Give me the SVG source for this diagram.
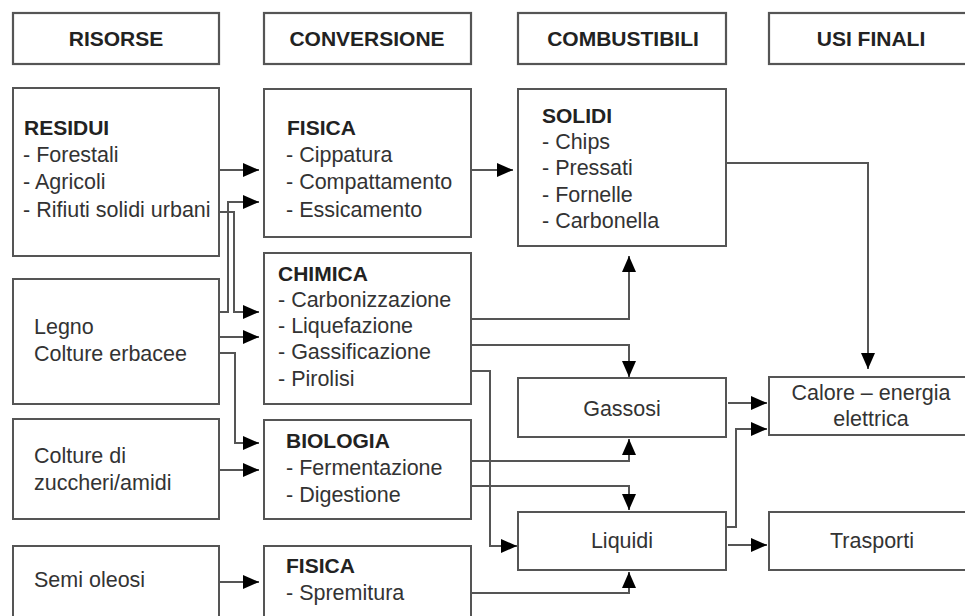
<svg xmlns="http://www.w3.org/2000/svg" width="965" height="616" viewBox="0 0 965 616">
<defs>
<marker id="arr" markerUnits="userSpaceOnUse" markerWidth="17" markerHeight="15" refX="16" refY="7" orient="auto">
<path d="M0,0 L16,7 L0,14 z" fill="#000"/>
</marker>
<style>
.box{fill:#fff;stroke:#555;stroke-width:2}
.hbox{fill:#fff;stroke:#555;stroke-width:2.2}
.t{font-family:"Liberation Sans",Arial,sans-serif;font-size:21.5px;fill:#333}
.b{font-family:"Liberation Sans",Arial,sans-serif;font-size:21px;font-weight:bold;fill:#222}
.c{text-anchor:middle}
.ln{fill:none;stroke:#555;stroke-width:2}
.ar{marker-end:url(#arr)}
</style>
</defs>
<rect width="965" height="616" fill="#fff"/>

<g id="h-risorse"><rect class="hbox" x="13" y="13" width="206" height="51"/><text class="b c" x="116" y="46">RISORSE</text></g>
<g id="h-conversione"><rect class="hbox" x="264" y="13" width="207" height="51"/><text class="b c" x="367" y="46">CONVERSIONE</text></g>
<g id="h-combustibili"><rect class="hbox" x="518" y="13" width="208" height="51"/><text class="b c" x="623" y="46">COMBUSTIBILI</text></g>
<g id="h-usi"><rect class="hbox" x="769" y="13" width="206" height="51"/><text class="b c" x="871" y="46">USI FINALI</text></g>

<g id="connectors">
<path class="ln ar" d="M219,170 H259"/>
<path class="ln ar" d="M219,312 H228 V202 H259"/>
<path class="ln ar" d="M219,212 H234 V312 H259"/>
<path class="ln ar" d="M219,337 H259"/>
<path class="ln ar" d="M219,353 H235 V443 H259"/>
<path class="ln ar" d="M219,470 H259"/>
<path class="ln ar" d="M219,582 H259"/>
<path class="ln ar" d="M471,170 H513"/>
<path class="ln ar" d="M726,163 H868 V369"/>
<path class="ln ar" d="M471,319 H629 V256"/>
<path class="ln ar" d="M471,345 H629 V377"/>
<path class="ln ar" d="M471,371 H490 V546 H517"/>
<path class="ln ar" d="M471,461 H629 V439"/>
<path class="ln ar" d="M471,486 H629 V510"/>
<path class="ln ar" d="M471,593 H629 V572"/>
<path class="ln ar" d="M728,403 H767"/>
<path class="ln ar" d="M726,527 H736 V429 H767"/>
<path class="ln ar" d="M728,545 H767"/>
</g>

<g id="residui"><rect class="box" x="13" y="88" width="206" height="168"/>
<text class="b" x="24" y="135">RESIDUI</text>
<text class="t" x="23" y="162">- Forestali</text>
<text class="t" x="23" y="189">- Agricoli</text>
<text class="t" x="23" y="217">- Rifiuti solidi urbani</text></g>

<g id="legno"><rect class="box" x="13" y="279" width="206" height="125"/>
<text class="t" x="34" y="334">Legno</text>
<text class="t" x="34" y="361">Colture erbacee</text></g>

<g id="zuccheri"><rect class="box" x="13" y="419" width="206" height="100"/>
<text class="t" x="34" y="463">Colture di</text>
<text class="t" x="34" y="490">zuccheri/amidi</text></g>

<g id="semi"><rect class="box" x="13" y="546" width="206" height="76"/>
<text class="t" x="34" y="587">Semi oleosi</text></g>

<g id="fisica"><rect class="box" x="264" y="89" width="207" height="148"/>
<text class="b" x="287" y="135">FISICA</text>
<text class="t" x="286" y="162">- Cippatura</text>
<text class="t" x="286" y="189">- Compattamento</text>
<text class="t" x="286" y="217">- Essicamento</text></g>

<g id="chimica"><rect class="box" x="264" y="253" width="207" height="151"/>
<text class="b" x="278" y="281">CHIMICA</text>
<text class="t" x="278" y="307">- Carbonizzazione</text>
<text class="t" x="278" y="333">- Liquefazione</text>
<text class="t" x="278" y="359">- Gassificazione</text>
<text class="t" x="278" y="386">- Pirolisi</text></g>

<g id="biologia"><rect class="box" x="264" y="420" width="207" height="99"/>
<text class="b" x="286" y="448">BIOLOGIA</text>
<text class="t" x="286" y="475">- Fermentazione</text>
<text class="t" x="286" y="502">- Digestione</text></g>

<g id="fisica2"><rect class="box" x="264" y="546" width="207" height="76"/>
<text class="b" x="286" y="573">FISICA</text>
<text class="t" x="286" y="600">- Spremitura</text></g>

<g id="solidi"><rect class="box" x="518" y="89" width="208" height="157"/>
<text class="b" x="542" y="123">SOLIDI</text>
<text class="t" x="542" y="149">- Chips</text>
<text class="t" x="542" y="175">- Pressati</text>
<text class="t" x="542" y="202">- Fornelle</text>
<text class="t" x="542" y="228">- Carbonella</text></g>

<g id="gassosi"><rect class="box" x="518" y="378" width="208" height="59"/>
<text class="t c" x="622" y="416">Gassosi</text></g>

<g id="liquidi"><rect class="box" x="518" y="512" width="208" height="58"/>
<text class="t c" x="622" y="548">Liquidi</text></g>

<g id="calore"><rect class="box" x="769" y="377" width="206" height="58"/>
<text class="t c" x="871" y="400">Calore – energia</text>
<text class="t c" x="871" y="426">elettrica</text></g>

<g id="trasporti"><rect class="box" x="769" y="512" width="206" height="58"/>
<text class="t c" x="872" y="548">Trasporti</text></g>
</svg>
